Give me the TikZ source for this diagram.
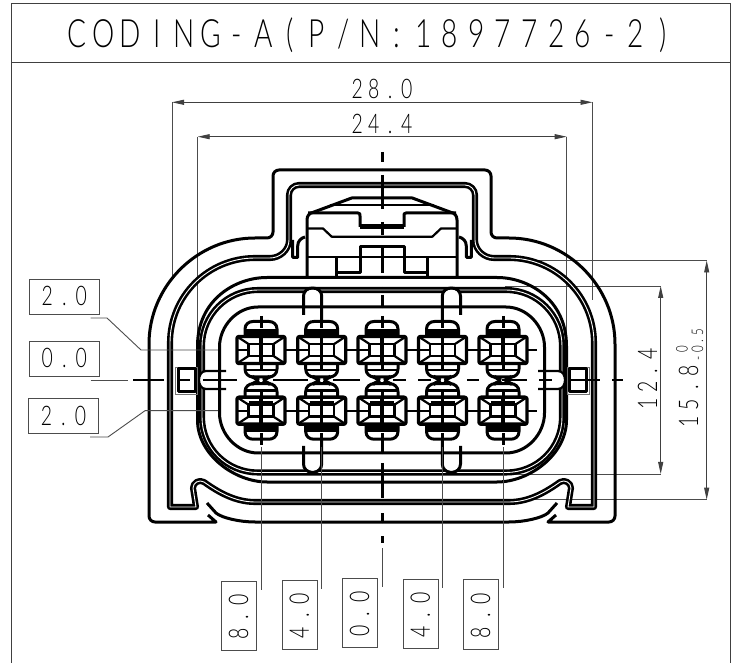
\documentclass[tikz,border=0pt]{standalone}
\usepackage{fontspec}
\usetikzlibrary{arrows.meta}
\newfontfamily\cadf[FakeStretch=0.72,UprightFont=*-Light]{Lato}
\makeatletter
\newcommand\cadtext[2]{\@tfor\cad@c:=#2\do{\makebox[#1][c]{\cad@c}}}
\makeatother
\definecolor{dimgr}{gray}{0.3}
\tikzset{
  heavy/.style={line width=3pt,line cap=butt,line join=round},
  twin/.style={line width=2.6pt,double=white,double distance=0.9pt,line join=round},
  thinl/.style={line width=0.9pt,draw=dimgr},
  frameline/.style={line width=1pt,draw=black!75},
  dimline/.style={line width=0.9pt,draw=black!75,{Triangle[length=12pt,width=5pt]}-{Triangle[length=12pt,width=5pt]}},
  txt/.style={inner sep=0pt,anchor=base,text=black},
  tagbox/.style={line width=0.9pt,draw=black!70,fill=white}
}
\newcommand\halfbody{%
  % outer shell
  \draw[heavy] (382,170) -- (279,170) .. controls (275.7,170) and (273,172.7) .. (273,176) -- (273,232)
     .. controls (273,235.3) and (270.3,238) .. (267,238) -- (255,238)
     .. controls (197,238) and (149,286) .. (149,344) -- (149,516)
     .. controls (149,519.3) and (151.7,522) .. (155,522) -- (216,522) -- (208,515);
  \draw[heavy] (207,503) -- (216,513) .. controls (222,518) and (240,522) .. (255,522) -- (382,522);
  % second wall
  \draw[twin] (382,185) -- (299,185) .. controls (293.5,185) and (289,189.5) .. (289,195) -- (289,240)
     .. controls (289,250) and (280,258) .. (270,258) -- (255,258)
     .. controls (208,258) and (170,296) .. (170,343) -- (170,507) -- (196,507) -- (193,488)
     .. controls (193,483) and (199,479) .. (204,482)
     .. controls (218,492) and (235,502) .. (255,502) -- (382,502);
  % third wall
  \draw[twin] (382,290) -- (258,290) .. controls (227,290) and (202,315) .. (202,346) -- (202,417)
     .. controls (202,448) and (227,472.5) .. (258,472.5) -- (382,472.5);
  % openings in the third wall
  \fill[white] (206,371.5) .. controls (201,371.5) and (198.5,376) .. (198.5,380)
     .. controls (198.5,384) and (201,388.5) .. (206,388.5) -- (226,388.5) -- (226,371.5) -- cycle;
  \fill[white] (305,300) -- (305,296) .. controls (305,292) and (308,289.5) .. (312.6,289.5)
     .. controls (317,289.5) and (320.4,292) .. (320.4,296) -- (320.4,300) -- cycle;
  \fill[white] (305,462) -- (305,464) .. controls (305,468) and (308,471) .. (312.6,471)
     .. controls (317,471) and (320.4,468) .. (320.4,464) -- (320.4,462) -- cycle;
  \draw[heavy] (382,277.5) -- (267,277.5) .. controls (235,277.5) and (197.5,300) .. (197.5,346) -- (197.5,420)
     .. controls (197.5,455) and (235,482) .. (267,482) -- (382,482);
  \draw[heavy] (382,307) -- (258,307) .. controls (237,307) and (219.5,326) .. (219.5,347) -- (219.5,413)
     .. controls (219.5,434) and (237,453) .. (258,453) -- (382,453);
  \draw[heavy] (303.5,315) -- (303.5,296) .. controls (303.5,291) and (307.5,288) .. (312.6,288)
     .. controls (317.7,288) and (321.7,291) .. (321.7,296) -- (321.7,320);
  \draw[heavy] (303.5,446) -- (303.5,464) .. controls (303.5,469) and (307.5,472.5) .. (312.6,472.5)
     .. controls (317.7,472.5) and (321.7,469) .. (321.7,464) -- (321.7,440);
  \draw[heavy,line width=2.2pt] (226,371) -- (206,371) .. controls (201,371) and (199,376) .. (199,380);
  \draw[heavy,line width=2.2pt] (226,389) -- (206,389) .. controls (201,389) and (199,384) .. (199,380);
  % side tab
  \draw[line width=0.8pt,draw=black!55] (175,367) rectangle (197,394);
  \draw[heavy] (178,369) rectangle (195,392);
  % latch
  \draw[heavy] (382,198) -- (351.7,198) -- (314,212) .. controls (309,213) and (307,216) .. (307,220) -- (307,277);
  \draw[heavy,line width=2pt] (382,205) -- (330,205);
  \draw[heavy] (308,213) -- (358,213) .. controls (360,213) and (360,214) .. (360,216) -- (360,227);
  \draw[line width=5pt] (360,227) -- (382,227);
  \draw[heavy,line width=2.2pt] (307,228.5) -- (323,228.5) -- (331.7,236.7) -- (382,236.7);
  \draw[heavy] (382,247) -- (360,247) -- (360,272.7) -- (336.7,272.7);
  \draw[heavy] (336.7,277) -- (336.7,256.7);
  \draw[heavy,line width=2.2pt] (307,256.7) -- (382,256.7);
  \draw[heavy] (292.7,240) -- (292.7,257.3) -- (297.7,257.3) -- (297.7,246)
     .. controls (297.7,241) and (301,238) .. (305,237);
}
\newcommand\cavity[2]{%
  \begin{scope}[shift={(#1,#2)}]
    \draw[heavy,line width=3.4pt,rounded corners=2pt] (-24,-13.5) rectangle (24,13.5);
    \draw[heavy,line width=2.4pt] (-12.5,-6) rectangle (12.5,6);
    \foreach \a/\b in {-24/-13.5,24/-13.5,-24/13.5,24/13.5}
      \draw[heavy,line width=2.2pt] (\a,\b) -- ({\a/24*12.5},{\b/13.5*6});
    \draw[heavy,line width=2pt] (-24,0) -- (-12.5,0);
    \draw[heavy,line width=3.4pt] (0,-12) -- (0,12);
    \draw[heavy] (-16,-13.5) -- (-16,-21) .. controls (-16,-26) and (-12,-28.5) .. (-8,-28.5)
       -- (8,-28.5) .. controls (12,-28.5) and (16,-26) .. (16,-21) -- (16,-13.5);
    \fill (-16,-21) rectangle (16,-14);
    \draw[heavy] (0,-34) -- (0,-22);
    \draw[heavy] (-16,13.5) -- (-16,19) .. controls (-16,24) and (-12,27) .. (-8,27)
       -- (8,27) .. controls (12,27) and (16,24) .. (16,19) -- (16,13.5);
    \draw[heavy,line width=2.4pt] (-16,20) -- (16,20);
    \draw[heavy] (0,13) -- (0,20);
    \draw[heavy,line width=3.6pt] (-9,26.5) -- (-2,30.3) (9,26.5) -- (2,30.3);
  \end{scope}%
}
\begin{document}
\begin{tikzpicture}[x=1pt,y=-1pt]
\useasboundingbox (0,0) rectangle (732,663);
\fill[white] (0,0) rectangle (732,663);
% frame
\draw[frameline] (11.7,663) -- (11.7,3.5) -- (730,3.5) -- (730,663);
\draw[frameline] (11.7,63) -- (730,63);
\node[txt,font=\cadf\fontsize{39}{39}\selectfont] (title) at (370,47.5) {\cadtext{26.6pt}{CODING-A(P/N:1897726-2)}};
% extension lines
\draw[thinl] (172,102) -- (172,278);
\draw[thinl] (197.7,137) -- (197.7,340);
\draw[thinl] (592.5,102) -- (592.5,300);
\draw[thinl] (566.7,137) -- (566.7,340);
\draw[thinl] (505,260.5) -- (706.7,260.5);
\draw[thinl] (505,499.7) -- (706.7,499.7);
\draw[thinl] (505,286) -- (660.7,286);
\draw[thinl] (505,474) -- (660.7,474);
% dimension lines
\coordinate (aL) at (172,102.3); \coordinate (aR) at (592.5,102.3);
\coordinate (bL) at (197.7,136.7); \coordinate (bR) at (566.7,136.7);
\coordinate (cT) at (660.7,286); \coordinate (cB) at (660.7,474);
\coordinate (dT) at (706.7,260.5); \coordinate (dB) at (706.7,499.7);
\draw[dimline] (aL) -- (aR);
\draw[dimline] (bL) -- (bR);
\draw[dimline] (cT) -- (cB);
\draw[dimline] (dT) -- (dB);
\node[txt,font=\cadf\fontsize{27}{27}\selectfont] (d28) at (382,99) {\cadtext{16.5pt}{28.0}};
\node[txt,font=\cadf\fontsize{27}{27}\selectfont] (d24) at (382,133.5) {\cadtext{16.5pt}{24.4}};
\node[txt,rotate=90,font=\cadf\fontsize{27}{27}\selectfont] (d12) at (657,379) {\cadtext{16.5pt}{12.4}};
\node[txt,rotate=90,font=\cadf\fontsize{27}{27}\selectfont] (d15) at (698,396) {\cadtext{17pt}{15.8}};
\node[txt,rotate=90,font=\cadf\fontsize{16}{16}\selectfont] (d15u) at (687.5,349) {0};
\node[txt,rotate=90,font=\cadf\fontsize{16}{16}\selectfont] (d15l) at (703,345) {\cadtext{8.7pt}{-0.5}};
% body
\halfbody
\begin{scope}[shift={(764,0)},xscale=-1]
  \halfbody
\end{scope}
% cavities
\foreach \cx in {261,321.7,382,442.5,503}{
  \cavity{\cx}{350}
  \begin{scope}[shift={(0,760.7)},yscale=-1]
    \cavity{\cx}{350}
  \end{scope}
  \draw[heavy,line width=2.6pt] ({\cx-12},402.5) -- ({\cx+12},402.5);
}
\foreach \y in {350,410.7}{
  \foreach \a/\b in {285/297.7,345.7/358,406/418.5,466.5/479,527/537}
    \draw[heavy,line width=1.8pt] (\a,\y) -- (\b,\y);
}
% centre lines
\foreach \a/\b in {152/162,175/209,222/235,247/273,295/307,317/326,437/452,463/498,513/522,536/543}
  \draw[heavy,line width=3pt] (382,\a) -- (382,\b);
\foreach \a/\b in {133/164,177/190,203/237,502/527,539/552,570/600,612/623,347/360,393/406,418/431,467/479}
  \draw[heavy,line width=2.2pt] (\a,380) -- (\b,380);
\foreach \a/\b in {273/308,333/347}
  \draw[heavy,line width=1.2pt] (\a,380) -- (\b,380);
% leaders
\coordinate (lu) at (90.7,318); \coordinate (lm) at (90.7,380); \coordinate (ll) at (90,437);
\draw[thinl] (lu) -- (107,318) -- (141,350) -- (218,350);
\draw[thinl] (lm) -- (128,380);
\draw[thinl] (ll) -- (108,437) -- (145,410.7) -- (218,410.7);
\foreach \x/\y/\z in {261/447/590,321.7/447/588.5,382/548/587,442.5/447/587.5,503/447/588}
  \draw[thinl] (\x,\y) -- (\x,\z);
% tags
\draw[tagbox] (29.3,279) rectangle (99.3,314);
\node[txt,font=\cadf\fontsize{27}{27}\selectfont] (t1) at (64.3,305.7) {\cadtext{17pt}{2.0}};
\draw[tagbox] (29.3,341) rectangle (99.3,376);
\node[txt,font=\cadf\fontsize{27}{27}\selectfont] (t2) at (64.3,367.3) {\cadtext{17pt}{0.0}};
\draw[tagbox] (28.5,398) rectangle (98.5,433);
\node[txt,font=\cadf\fontsize{27}{27}\selectfont] (t3) at (63.5,425) {\cadtext{17pt}{2.0}};
\foreach \n/\xa/\ya/\t in {b1/221.7/581.3/8.0,b2/282.3/580/4.0,b3/342.7/578.3/0.0,b4/403.3/579.3/4.0,b5/463.7/579.7/8.0}{
  \draw[tagbox] (\xa,\ya) rectangle ({\xa+35},{\ya+69.5});
  \node[txt,rotate=90,font=\cadf\fontsize{27}{27}\selectfont] (\n) at ({\xa+26.5},{\ya+35.7}) {\expandafter\cadtext\expandafter{\expandafter1\expandafter7\expandafter p\expandafter t\expandafter}\expandafter{\t}};
}
\end{tikzpicture}
\end{document}
